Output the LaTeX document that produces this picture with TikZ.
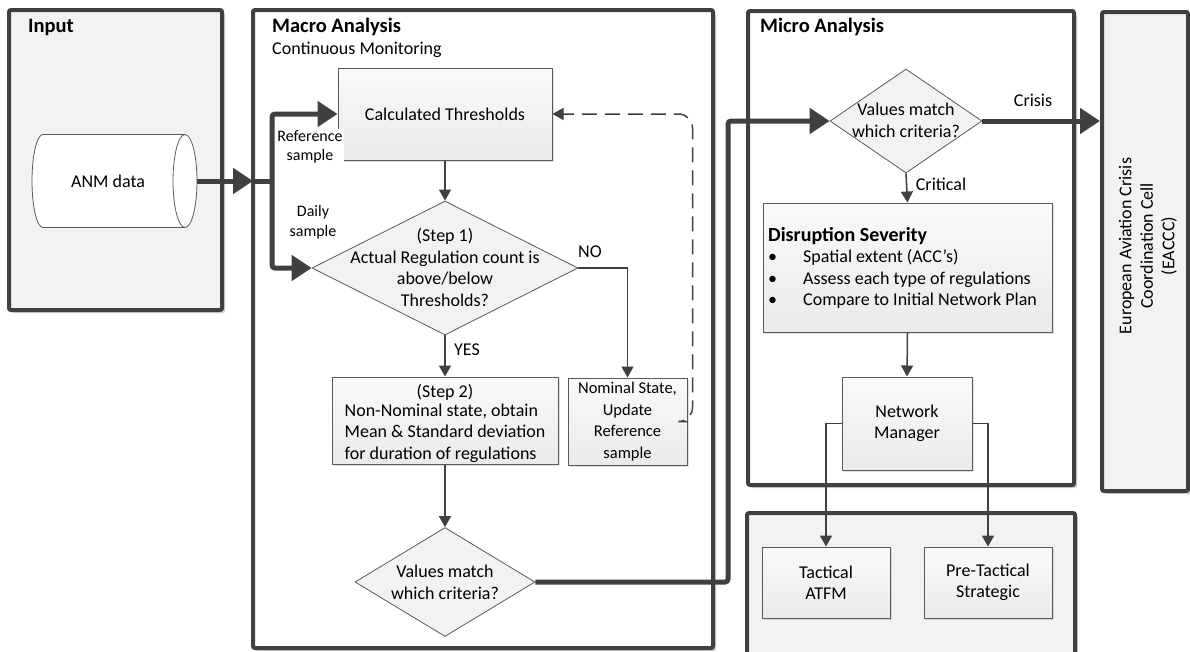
\documentclass[tikz,border=0pt]{standalone}
\usepackage{fontspec}
\setmainfont{Carlito}
\usetikzlibrary{arrows.meta,shapes.geometric,shadows,calc}

\definecolor{edge}{HTML}{404040}
\definecolor{boxline}{HTML}{5A5A5A}
\definecolor{panelfill}{HTML}{F2F2F2}
\definecolor{boxtop}{HTML}{FAFAFA}
\definecolor{boxbottom}{HTML}{EAEAEA}

\newcommand{\bulitem}{\makebox[35pt][l]{\textbullet}}

\tikzset{
  basefont/.style={font=\fontsize{18}{21.5}\selectfont},
  smallfont/.style={font=\fontsize{16}{19.5}\selectfont},
  panel/.style={draw=edge, line width=4pt, rounded corners=2pt, inner sep=0pt,
    drop shadow={shadow xshift=3pt, shadow yshift=-3pt, opacity=0.18, fill=black}},
  graypanel/.style={panel, fill=panelfill},
  whitepanel/.style={panel, fill=white},
  procbox/.style={draw=boxline, line width=1pt, top color=boxtop, bottom color=boxbottom,
    inner sep=2pt, align=center, basefont,
    drop shadow={shadow xshift=2pt, shadow yshift=-2pt, opacity=0.12, fill=black}},
  decision/.style={diamond, draw=boxline, line width=0.8pt, fill=panelfill, inner sep=0pt},
  txt/.style={basefont, align=center, inner sep=0pt},
  lbl/.style={smallfont, align=center, inner sep=1pt},
  title/.style={font=\fontsize{20.5}{24}\selectfont\bfseries, anchor=west, inner sep=0pt},
  bigflow/.style={draw=edge, line width=5pt, rounded corners=3pt},
  bigtip/.style={-{Triangle[length=20pt,width=25pt]}},
  flow/.style={draw=edge, line width=1.5pt, -{Triangle[length=11pt,width=12pt]}},
  feedback/.style={draw=edge, line width=1.5pt, dash pattern=on 15pt off 8pt,
    rounded corners=14pt, -{Triangle[length=11pt,width=12pt]}},
  storeline/.style={draw=boxline, line width=0.8pt},
}

\begin{document}
\begin{tikzpicture}[x=1pt,y=-1pt]
\useasboundingbox (0,0) rectangle (1190,651);

% ---- swim-lane panels
\node[graypanel, minimum width=213pt, minimum height=300pt] (inputpanel) at (115.5,160) {};
\node[whitepanel, minimum width=460pt, minimum height=638pt] (macropanel) at (483,329) {};
\node[whitepanel, minimum width=326pt, minimum height=474pt] (micropanel) at (911,248) {};
\node[graypanel, minimum width=328pt, minimum height=147pt] (actionpanel) at (911,586.5) {};
\node[graypanel, minimum width=86pt, minimum height=479pt] (eaccc) at (1145,251.5) {};

% ---- panel titles
\node[title] (inputtitle) at (28,27) {Input};
\node[title] (macrotitle) at (272,27) {Macro Analysis};
\node[basefont, anchor=west, inner sep=0pt] (macrosub) at (272,50) {Continuous Monitoring};
\node[title] (microtitle) at (760,27) {Micro Analysis};
\node[txt, rotate=90] (eaccctxt) at (1148,246)
  {European Aviation Crisis\\Coordination Cell\\(EACCC)};

% ---- input data store (horizontal cylinder)
\node[minimum width=165pt, minimum height=93pt, inner sep=0pt] (anm) at (114.5,181) {};
\fill[white] (43,134.5) -- (185,134.5) arc[start angle=270, end angle=450, x radius=12, y radius=46.5]
  -- (43,227.5) arc[start angle=90, end angle=270, x radius=11, y radius=46.5] -- cycle;
\draw[storeline] (185,134.5) -- (43,134.5) arc[start angle=270, end angle=90, x radius=11, y radius=46.5]
  -- (185,227.5);
\draw[storeline] (185,181) ellipse[x radius=12, y radius=46.5];
\node[txt] (anmtxt) at (108,181) {ANM data};

% ---- macro analysis
\node[procbox, minimum width=214pt, minimum height=92pt] (calc) at (445,114) {Calculated Thresholds};
\node[decision, minimum width=266pt, minimum height=134pt] (step1) at (445,268) {};
\node[txt] (step1txt) at (445,267.5)
  {(Step 1)\\Actual Regulation count is\\above/below\\Thresholds?};
\node[procbox, minimum width=226pt, minimum height=87pt] (step2) at (445,420.5) {};
\node[txt] (step2txt) at (445,425)
  {(Step 2)\\\begin{tabular}{@{}l@{}}Non-Nominal state, obtain\\Mean \& Standard deviation\\for duration of regulations\end{tabular}};
\node[procbox, minimum width=119pt, minimum height=87pt, font=\fontsize{16.5}{21.5}\selectfont] (nominal) at (627.5,421.5)
  {Nominal State,\\Update\\Reference\\sample};
\node[decision, minimum width=180pt, minimum height=109pt] (match1) at (445,582) {};
\node[txt] (match1txt) at (445,582.5) {Values match\\which criteria?};

% ---- micro analysis
\node[decision, minimum width=152pt, minimum height=104pt] (match2) at (906,121) {};
\node[txt] (match2txt) at (906,120.5) {Values match\\which criteria?};
\node[procbox, minimum width=289pt, minimum height=129pt] (severity) at (907.5,267.5) {};
\node[basefont, align=left, anchor=west, inner sep=0pt] (severitytxt) at (768,268)
  {{\fontsize{20}{21.5}\selectfont\bfseries Disruption Severity}\\
   \bulitem Spatial extent (ACC’s)\\
   \bulitem Assess each type of regulations\\
   \bulitem Compare to Initial Network Plan};
\node[procbox, minimum width=130pt, minimum height=93pt] (nm) at (907,423.5) {Network\\Manager};

% ---- resulting actions
\node[procbox, minimum width=128pt, minimum height=71pt] (tactical) at (826,582.5) {Tactical\\ATFM};
\node[procbox, minimum width=128pt, minimum height=71pt] (pretactical) at (988,582.5) {Pre-Tactical\\Strategic};

% ---- main data flow
\coordinate (entry) at (253,181);
\coordinate (split) at (272,181);
\coordinate (bend) at (728,582);
\draw[bigflow, bigtip] (anm.east) -- (entry);
\draw[bigflow] (entry) -- (split);
\draw[bigflow, bigtip] (split) |- (calc.west);
\draw[bigflow, bigtip] (split) |- (step1.west);
\draw[bigflow, bigtip] (match1.east) -- (bend) |- (match2.west);
\draw[bigflow, bigtip] (match2.east) -- (match2.east -| eaccc.west);

\node[lbl, fill=white] (reflbl) at (310,147) {Reference\\sample};
\node[lbl] (dailylbl) at (313,222) {Daily\\sample};

% ---- macro flow
\draw[flow] (calc.south) -- (step1.north);
\draw[flow] (step1.east) -| (nominal.north);
\draw[flow] (step1.south) -- (step2.north);
\draw[flow] (step2.south) -- (match1.north);
\draw[feedback] (nominal.east) -- ++(5,0) |- (calc.east);
\node[basefont, inner sep=0pt] (nolbl) at (590,252) {NO};
\node[basefont, inner sep=0pt] (yeslbl) at (467,350) {YES};

% ---- micro flow
\draw[flow] (match2.south) -- (severity.north);
\node[basefont, inner sep=0pt] (critlbl) at (941,184) {Critical};
\node[basefont, inner sep=0pt] (crisislbl) at (1033,100) {Crisis};
\draw[flow] (severity.south) -- (nm.north);
\draw[flow] (nm.west) -| (tactical.north);
\draw[flow] (nm.east) -| (pretactical.north);
\end{tikzpicture}
\end{document}
